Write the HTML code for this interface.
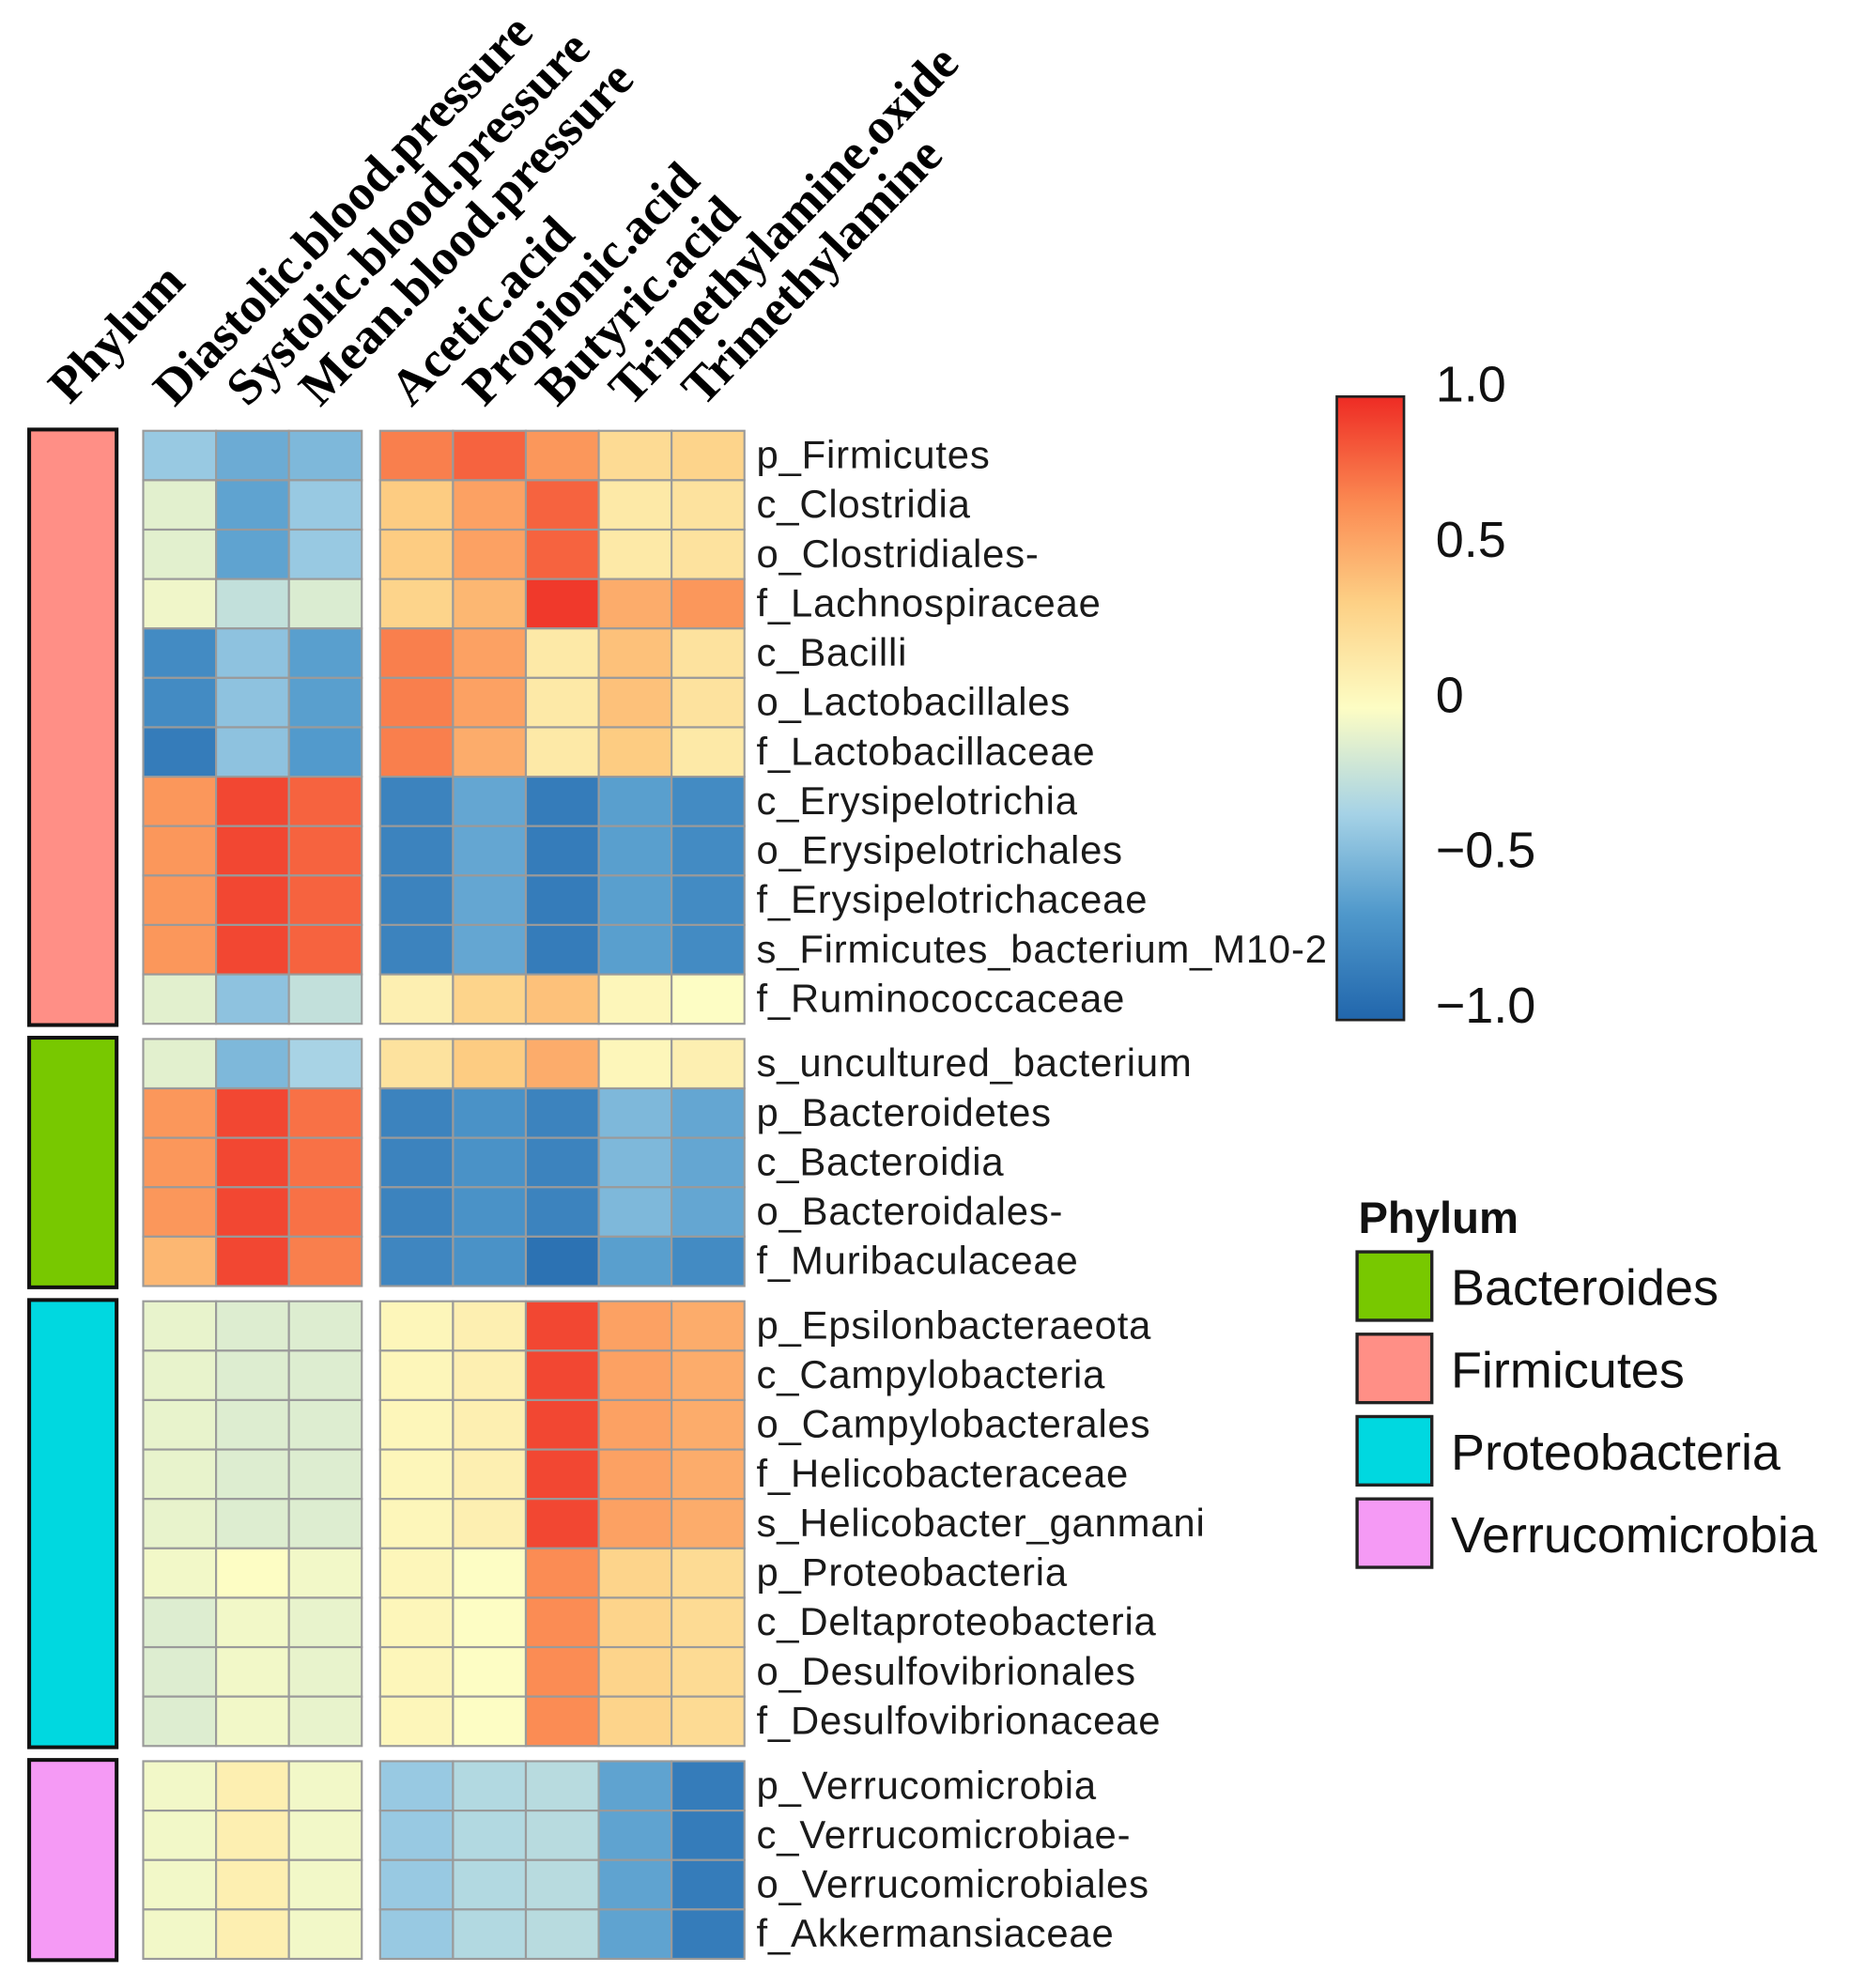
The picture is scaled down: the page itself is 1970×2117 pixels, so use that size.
<!DOCTYPE html>
<html><head><meta charset="utf-8"><style>
html,body{margin:0;padding:0;background:#fff;}
svg{display:block;}
.rl{font-family:"Liberation Sans",sans-serif;font-size:31px;letter-spacing:0.6px;fill:#1a1a1a;}
.ch{font-family:"Liberation Serif",serif;font-weight:bold;font-size:40px;fill:#000;}
.lg{font-family:"Liberation Sans",sans-serif;font-size:40px;fill:#111;}
</style></head><body>
<svg id="chart" width="1970" height="2117" viewBox="0 0 1460 1569" xmlns="http://www.w3.org/2000/svg">
<defs>
<linearGradient id="cbg" x1="0" y1="1" x2="0" y2="0">
<stop offset="0" stop-color="#2166ac"/><stop offset="0.17" stop-color="#4f98cb"/><stop offset="0.33" stop-color="#a5d2e6"/><stop offset="0.5" stop-color="#fdfdc4"/><stop offset="0.67" stop-color="#fdd085"/><stop offset="0.83" stop-color="#fb8a52"/><stop offset="1" stop-color="#ee2b24"/>
</linearGradient>
</defs>
<g id="cells"></g>
<g id="labels"></g>
<g id="heads"></g>
<g id="phy"></g>
<g>
<rect x="1055" y="313" width="53" height="492" fill="url(#cbg)" stroke="#222" stroke-width="2"/>
<g id="cbticks"></g>
</g>
<g>
<text x="1072" y="973" font-family="Liberation Sans, sans-serif" font-weight="bold" font-size="35" fill="#111">Phylum</text>
<g id="leg"></g>
</g>
</svg>
<script>
const columns=["Diastolic.blood.pressure","Systolic.blood.pressure","Mean.blood.pressure","Acetic.acid","Propionic.acid","Butyric.acid","Trimethylamine.oxide","Trimethylamine"];
const rowNames=["p_Firmicutes","c_Clostridia","o_Clostridiales-","f_Lachnospiraceae","c_Bacilli","o_Lactobacillales","f_Lactobacillaceae","c_Erysipelotrichia","o_Erysipelotrichales","f_Erysipelotrichaceae","s_Firmicutes_bacterium_M10-2","f_Ruminococcaceae","s_uncultured_bacterium","p_Bacteroidetes","c_Bacteroidia","o_Bacteroidales-","f_Muribaculaceae","p_Epsilonbacteraeota","c_Campylobacteria","o_Campylobacterales","f_Helicobacteraceae","s_Helicobacter_ganmani","p_Proteobacteria","c_Deltaproteobacteria","o_Desulfovibrionales","f_Desulfovibrionaceae","p_Verrucomicrobia","c_Verrucomicrobiae-","o_Verrucomicrobiales","f_Akkermansiaceae"];
const rowPhylum=[1,1,1,1,1,1,1,1,1,1,1,1,0,0,0,0,0,2,2,2,2,2,2,2,2,2,3,3,3,3];
const values=[
[-0.38,-0.55,-0.48,0.7,0.8,0.6,0.25,0.3],
[-0.1,-0.6,-0.38,0.35,0.55,0.8,0.15,0.2],
[-0.1,-0.6,-0.38,0.35,0.55,0.8,0.15,0.2],
[-0.05,-0.22,-0.13,0.3,0.45,0.95,0.5,0.6],
[-0.75,-0.42,-0.62,0.7,0.55,0.15,0.4,0.2],
[-0.75,-0.42,-0.62,0.7,0.55,0.15,0.4,0.2],
[-0.85,-0.42,-0.65,0.7,0.5,0.15,0.35,0.15],
[0.6,0.9,0.8,-0.8,-0.58,-0.85,-0.62,-0.75],
[0.6,0.9,0.8,-0.8,-0.58,-0.85,-0.62,-0.75],
[0.6,0.9,0.8,-0.8,-0.58,-0.85,-0.62,-0.75],
[0.6,0.9,0.8,-0.8,-0.58,-0.85,-0.62,-0.75],
[-0.1,-0.42,-0.22,0.1,0.3,0.4,0.05,0.0],
[-0.1,-0.48,-0.32,0.2,0.35,0.5,0.05,0.1],
[0.6,0.9,0.75,-0.8,-0.7,-0.8,-0.48,-0.58],
[0.6,0.9,0.75,-0.8,-0.7,-0.8,-0.48,-0.58],
[0.6,0.9,0.75,-0.8,-0.7,-0.8,-0.48,-0.58],
[0.45,0.9,0.7,-0.78,-0.7,-0.92,-0.62,-0.75],
[-0.08,-0.12,-0.12,0.05,0.1,0.9,0.55,0.5],
[-0.08,-0.12,-0.12,0.05,0.1,0.9,0.55,0.5],
[-0.08,-0.12,-0.12,0.05,0.1,0.9,0.55,0.5],
[-0.08,-0.12,-0.12,0.05,0.1,0.9,0.55,0.5],
[-0.08,-0.12,-0.12,0.05,0.1,0.9,0.55,0.5],
[-0.04,0.0,-0.04,0.05,0.0,0.65,0.3,0.25],
[-0.12,-0.04,-0.08,0.05,0.0,0.65,0.3,0.25],
[-0.12,-0.04,-0.08,0.05,0.0,0.65,0.3,0.25],
[-0.12,-0.04,-0.08,0.05,0.0,0.65,0.3,0.25],
[-0.04,0.1,-0.04,-0.38,-0.28,-0.26,-0.6,-0.85],
[-0.04,0.1,-0.04,-0.38,-0.28,-0.26,-0.6,-0.85],
[-0.04,0.1,-0.04,-0.38,-0.28,-0.26,-0.6,-0.85],
[-0.04,0.1,-0.04,-0.38,-0.28,-0.26,-0.6,-0.85]];
const phylumNames=["Bacteroides","Firmicutes","Proteobacteria","Verrucomicrobia"];
const phylumColors=["#78c800","#ff8f86","#00d8e0","#f59af5"];
const cbTicks=[1.0,0.5,0,-0.5,-1.0];
const cbLabels=["1.0","0.5","0","\u22120.5","\u22121.0"];

const NS="http://www.w3.org/2000/svg";
function mk(t,a,p){const e=document.createElementNS(NS,t);for(const k in a)e.setAttribute(k,a[k]);p.appendChild(e);return e;}
const stops=[[-1,[33,102,172]],[-0.66,[79,152,203]],[-0.33,[165,210,230]],[0,[253,253,196]],[0.33,[253,208,133]],[0.66,[251,138,82]],[1,[238,43,36]]];
function color(v){v=Math.max(-1,Math.min(1,v));for(let i=0;i<stops.length-1;i++){const a=stops[i],b=stops[i+1];if(v<=b[0]){const t=(v-a[0])/(b[0]-a[0]);return "rgb("+a[1].map((c,j)=>Math.round(c+(b[1][j]-c)*t)).join(",")+")";}}return "rgb(238,43,36)";}
const rowH=39,gap=12,top0=340;
function rowY(i){let g=0;for(let k=1;k<=i;k++)if(rowPhylum[k]!==rowPhylum[k-1])g++;return top0+i*rowH+g*gap;}
const colW=57.5;
function colX(j){return j<3?113+j*colW:300+(j-3)*colW;}
const cells=document.getElementById('cells'),labels=document.getElementById('labels');
values.forEach((row,i)=>{
 row.forEach((v,j)=>{
  const r=mk('rect',{x:colX(j),y:rowY(i),width:colW,height:rowH,fill:color(v),stroke:"#9a9a9a","stroke-width":1.6},cells);
  
  
 });
 const t=mk('text',{x:597,y:rowY(i)+rowH/2+10,class:'rl'},labels);t.textContent=rowNames[i];
 
 
});
const heads=document.getElementById('heads');
const hp=mk('text',{class:'ch',transform:"translate(55,320) rotate(-46)"},heads);hp.textContent="Phylum";


columns.forEach((c,j)=>{const t=mk('text',{class:'ch',transform:"translate("+(colX(j)+colW/2-4)+",322) rotate(-46)"},heads);t.textContent=c;
 
 });
const phy=document.getElementById('phy');
let s=0;
for(let i=1;i<=rowPhylum.length;i++){
 if(i===rowPhylum.length||rowPhylum[i]!==rowPhylum[s]){
  const y1=rowY(s)-1,y2=rowY(i-1)+rowH+1;
  const r=mk('rect',{x:23,y:y1,width:69,height:y2-y1,fill:phylumColors[rowPhylum[s]],stroke:"#111","stroke-width":3},phy);
  
  
  s=i;
 }
}
const cb=document.getElementById('cbticks');
cbTicks.forEach((v,k)=>{const y=309+(1-v)/2*490;const t=mk('text',{x:1133,y:y+8,class:'lg'},cb);t.textContent=cbLabels[k];
 
 });
const leg=document.getElementById('leg');
phylumNames.forEach((n,k)=>{const y=988+k*65;
 const r=mk('rect',{x:1071,y:y,width:59,height:54,fill:phylumColors[k],stroke:"#222","stroke-width":2.5},leg);
 
 
 const t=mk('text',{x:1145,y:y+42,class:'lg'},leg);t.textContent=n;
 
 });
</script>
</body></html>
